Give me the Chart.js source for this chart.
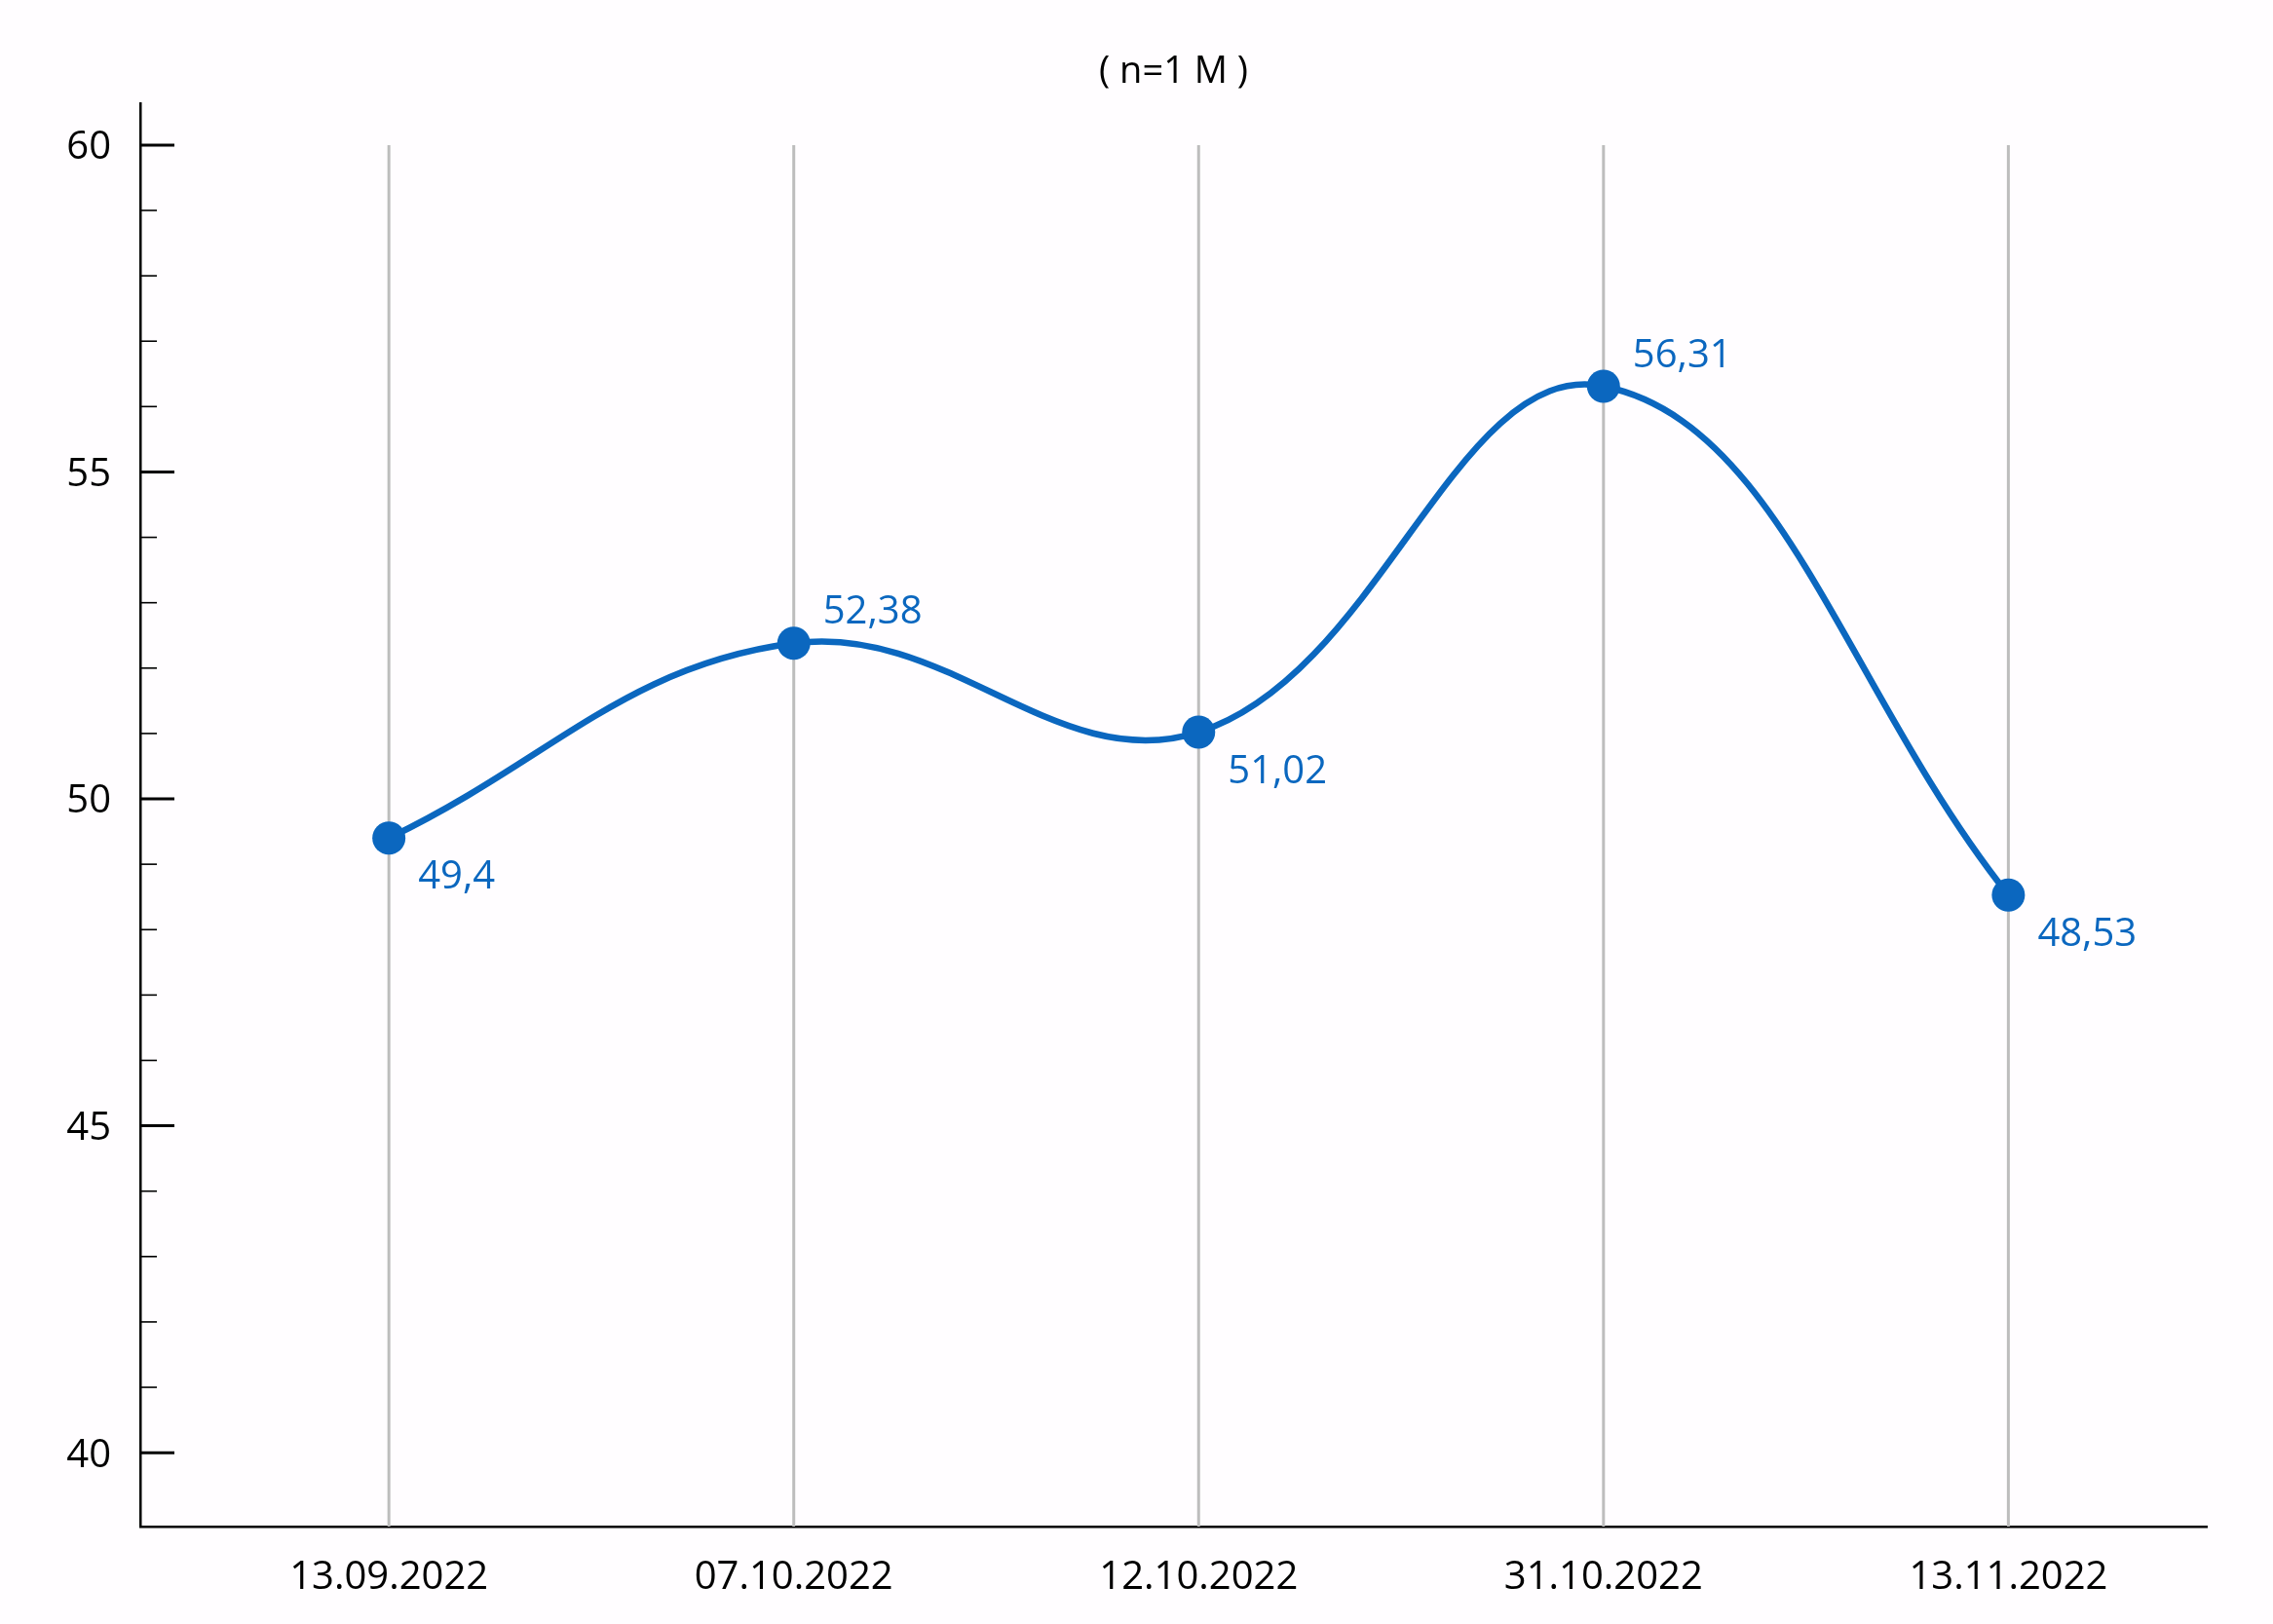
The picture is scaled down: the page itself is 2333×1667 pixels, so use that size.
<!DOCTYPE html>
<html>
<head>
<meta charset="utf-8">
<script src="https://cdn.jsdelivr.net/npm/chart.js@4"></script>
<style>
  html, body { margin: 0; padding: 0; background: #fffdff; }
  #wrap { width: 2333px; height: 1667px; }
</style>
</head>
<body>
<div id="wrap"><canvas id="lineChart"></canvas></div>
<script>
// data
const categories = ['13.09.2022', '07.10.2022', '12.10.2022', '31.10.2022', '13.11.2022'];
const values = [49.4, 52.38, 51.02, 56.31, 48.53];
const yTickLabels = [40, 45, 50, 55, 60];
const chartTitle = '( n=1 M )';

const blue = '#0b67bf';
const font = 'Open Sans';

// inward ticks on the y axis, long ones for labelled values
const yTicksPlugin = {
  id: 'yTicks',
  afterDraw(chart) {
    const y = chart.scales.y;
    const ctx = chart.ctx;
    ctx.save();
    ctx.strokeStyle = '#000';
    y.ticks.forEach(t => {
      if (t.value < yTickLabels[0]) return;
      const major = yTickLabels.includes(t.value);
      const py = y.getPixelForValue(t.value);
      ctx.lineWidth = major ? 3 : 1.6;
      ctx.beginPath();
      ctx.moveTo(y.right, py);
      ctx.lineTo(y.right + (major ? 35 : 17), py);
      ctx.stroke();
    });
    ctx.restore();
  }
};

// vertical grid lines only up to the top labelled value
const vGridPlugin = {
  id: 'vGrid',
  beforeDatasetsDraw(chart) {
    const x = chart.scales.x, y = chart.scales.y;
    const ctx = chart.ctx;
    const top = y.getPixelForValue(yTickLabels[yTickLabels.length - 1]);
    ctx.save();
    ctx.strokeStyle = '#bdbdbd';
    ctx.lineWidth = 3;
    categories.forEach((c, i) => {
      const px = x.getPixelForValue(i);
      ctx.beginPath();
      ctx.moveTo(px, top);
      ctx.lineTo(px, chart.chartArea.bottom);
      ctx.stroke();
    });
    ctx.restore();
  }
};

// value labels: above a local peak, below otherwise
const valueLabelsPlugin = {
  id: 'valueLabels',
  afterDatasetsDraw(chart) {
    const meta = chart.getDatasetMeta(0);
    const ctx = chart.ctx;
    ctx.save();
    ctx.font = '40px "' + font + '"';
    ctx.fillStyle = blue;
    ctx.textAlign = 'left';
    ctx.textBaseline = 'alphabetic';
    meta.data.forEach((pt, i) => {
      const v = values[i];
      const prev = i > 0 ? values[i - 1] : -Infinity;
      const next = i < values.length - 1 ? values[i + 1] : -Infinity;
      const above = v > prev && v > next;
      const txt = String(v).replace('.', ',');
      ctx.fillText(txt, pt.x + 30, above ? pt.y - 20 : pt.y + 52);
    });
    ctx.restore();
  }
};

new Chart(document.getElementById('lineChart'), {
  type: 'line',
  data: {
    datasets: [{
      data: values.map((v, i) => ({ x: i, y: v })),
      borderColor: blue,
      backgroundColor: blue,
      borderWidth: 6.5,
      tension: 0.4,
      pointRadius: 17,
      pointHoverRadius: 17,
      pointBorderWidth: 0,
      pointBackgroundColor: blue
    }]
  },
  options: {
    responsive: true,
    maintainAspectRatio: false,
    animation: false,
    layout: { padding: { left: 0, right: 68, top: 0, bottom: 0 } },
    plugins: {
      legend: { display: false },
      tooltip: { enabled: false },
      title: {
        display: true,
        text: chartTitle,
        fullSize: false,
        color: '#000',
        font: { family: font, size: 38, weight: 'normal' },
        padding: { top: 51, bottom: 10 }
      }
    },
    scales: {
      x: {
        type: 'linear',
        min: -0.614,
        max: 4.49,
        afterFit: s => { s.height = 100; },
        grid: { display: false, drawTicks: false },
        border: { display: true, color: '#000', width: 2.5 },
        ticks: {
          stepSize: 1,
          includeBounds: false,
          autoSkip: false,
          maxRotation: 0,
          padding: 29,
          color: '#000',
          font: { family: font, size: 40 },
          callback: v => Number.isInteger(v) && categories[v] ? categories[v] : ''
        }
      },
      y: {
        min: 38.87,
        max: 60.63,
        afterFit: s => { s.width = 144; },
        grid: { display: false, drawTicks: false },
        border: { display: true, color: '#000', width: 2.5 },
        ticks: {
          stepSize: 1,
          includeBounds: false,
          autoSkip: false,
          padding: 30,
          labelOffset: 3,
          color: '#000',
          font: { family: font, size: 40 },
          callback: v => yTickLabels.includes(v) ? v : ''
        }
      }
    }
  },
  plugins: [vGridPlugin, valueLabelsPlugin, yTicksPlugin]
});
</script>
</body>
</html>
